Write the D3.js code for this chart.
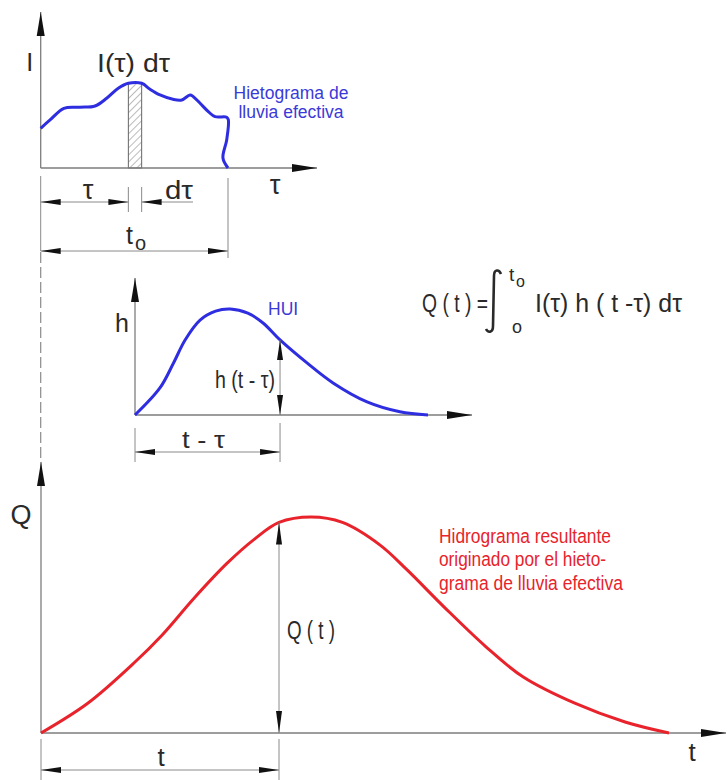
<!DOCTYPE html>
<html>
<head>
<meta charset="utf-8">
<script src="https://cdn.jsdelivr.net/npm/d3@7"></script>
<style>
  body { margin: 0; background: #fff; }
  text { font-family: "Liberation Sans Narrow", "Arial Narrow", "Liberation Sans", Arial, sans-serif; fill: #2a2a2a; }
  .blue { font-family: "Liberation Sans", Arial, sans-serif; fill: #3a3ad8; }
  .red { fill: #e8232b; }
</style>
</head>
<body>
<svg id="chart"></svg>
<script>
// hietograma de lluvia efectiva: tau en % de t0, I en % del maximo
const hietoTau = [0, 5, 12.4, 21, 29, 35.2, 41.4, 46.8, 53.9, 58.4, 63.7, 70.6, 75.3, 79.7, 81.5, 85.1, 89.5, 93.1, 99.3, 100.2, 99.3, 97.3, 100]
const hietoI = [46.9, 56.7, 70.5, 71.7, 73.2, 82.3, 94.1, 100, 100, 92.9, 86.2, 81.1, 80.3, 86.2, 84.2, 76.4, 66.5, 60.6, 59.9, 56.7, 33.1, 11.8, 0]
const stripTau = [46.8, 53.9]   // tau, tau + dtau
const stripI = 100
const t0 = 100

// HUI
const huiT = [0, 8.5, 13.1, 17.1, 22.2, 27.5, 32.5, 38.5, 43.7, 49.5, 58.7, 67.6, 79.2, 90.4, 100]
const huiH = [0, 25.5, 48.8, 70.8, 89.6, 98, 100, 96, 86.8, 70.8, 49.1, 30.2, 12.3, 3, 0]
const tMinusTau = 49.5

// hidrograma resultante
const qT = [0, 7.5, 14.8, 19.3, 24.4, 29.6, 34.1, 37.9, 43, 48, 54, 58.3, 64.2, 70.9, 76.8, 84.9, 93, 100]
const qQ = [0, 13.9, 32.4, 45.4, 62.5, 78.5, 90, 97.5, 100, 97.5, 87, 75.5, 58.3, 39.8, 25.9, 13.9, 5.1, 0]
const tNow = 37.9

const width = 727
const height = 780
const AXIS = "#7d7d7d"
const DIM = "#8a8a8a"
const INK = "#111"

const svg = d3.select("#chart")
    .attr("width", width)
    .attr("height", height)
    .attr("viewBox", [0, 0, width, height])

// hatch pattern for the I(tau) d tau strip
svg.append("defs").append("pattern")
    .attr("id", "hatch")
    .attr("patternUnits", "userSpaceOnUse")
    .attr("width", 5).attr("height", 5)
    .attr("patternTransform", "rotate(45)")
    .append("line")
    .attr("x1", 0).attr("y1", 0).attr("x2", 0).attr("y2", 5)
    .attr("stroke", "#777").attr("stroke-width", 1)

const arrowHead = (tip, dir, len = 20, half = 3) => {
    const [x, y] = tip, [dx, dy] = dir
    const bx = x - dx * len, by = y - dy * len
    svg.append("path")
        .attr("d", `M${x},${y}L${bx - dy * half},${by + dx * half}L${bx + dy * half},${by - dx * half}Z`)
        .attr("fill", INK)
}

const seg = (x1, y1, x2, y2, color = DIM, w = 1) => svg.append("line")
    .attr("x1", x1).attr("y1", y1).attr("x2", x2).attr("y2", y2)
    .attr("stroke", color).attr("stroke-width", w)

const axes = (x0, y0, xEnd, yEnd) => {
    seg(x0, y0, xEnd, y0, AXIS, 1.3)
    seg(x0, y0, x0, yEnd, AXIS, 1.3)
    arrowHead([xEnd, y0], [1, 0], 25, 4)
    arrowHead([x0, yEnd], [0, -1], 24, 4)
}

// horizontal dimension line with outward arrows
const hDim = (xa, xb, y) => {
    seg(xa, y, xb, y)
    arrowHead([xa, y], [-1, 0])
    arrowHead([xb, y], [1, 0])
}

const label = (txt, x, y, size, opts = {}) => {
    const t = svg.append("text")
        .attr("x", x).attr("y", y)
        .attr("dy", "0.35em")
        .attr("font-size", size)
        .attr("text-anchor", opts.anchor || "middle")
        .text(txt)
    if (opts.cls) t.attr("class", opts.cls)
    if (opts.len) t.attr("textLength", opts.len).attr("lengthAdjust", "spacingAndGlyphs")
    return t
}

const smooth = d3.curveCatmullRom.alpha(0.5)

// ---------- hietograma ----------
const xH = d3.scaleLinear().domain([0, t0]).range([40.7, 228])
const yH = d3.scaleLinear().domain([0, 100]).range([168, 83.3])

svg.append("rect")
    .attr("x", xH(stripTau[0]))
    .attr("y", yH(stripI))
    .attr("width", xH(stripTau[1]) - xH(stripTau[0]))
    .attr("height", yH(0) - yH(stripI))
    .attr("fill", "url(#hatch)")
    .attr("stroke", "#666").attr("stroke-width", 1)

axes(xH(0), yH(0), 317, 12)

svg.append("path")
    .datum(d3.zip(hietoTau, hietoI))
    .attr("fill", "none")
    .attr("stroke", "#2e2ee0")
    .attr("stroke-width", 3)
    .attr("d", d3.line().x(d => xH(d[0])).y(d => yH(d[1])).curve(smooth))

// extension lines and dimensions
seg(xH(0), yH(0) + 8, xH(0), 251)
seg(xH(t0), yH(0) + 10, xH(t0), 258)
stripTau.forEach(v => seg(xH(v), yH(0) + 19, xH(v), yH(0) + 44))
seg(xH(0), 202, xH(stripTau[0]), 202)
arrowHead([xH(0), 202], [-1, 0])
arrowHead([xH(stripTau[0]), 202], [1, 0])
seg(xH(stripTau[1]), 202, 193, 202)
arrowHead([xH(stripTau[1]), 202], [-1, 0])
hDim(xH(0), xH(t0), 251)

label("I", xH(0) - 11, 62, 25)
label("I(τ) dτ", 97, 63, 25, { anchor: "start", len: 73 })
label("Hietograma de", 291, 93, 17.5, { cls: "blue" })
label("lluvia efectiva", 291, 112, 17.5, { cls: "blue" })
label("τ", 275, 185, 27)
label("τ", 88, 190, 27)
label("dτ", 165, 190, 25, { anchor: "start", len: 28 })
label("t", 126, 235, 25, { anchor: "start" })
label("o", 135, 243, 20, { anchor: "start" })

// dashed connection down to the hydrograph
svg.append("line")
    .attr("x1", xH(0)).attr("y1", 252).attr("x2", xH(0)).attr("y2", 462)
    .attr("stroke", "#8a8a8a").attr("stroke-width", 1.2)
    .attr("stroke-dasharray", "11,4")

// ---------- HUI ----------
const xU = d3.scaleLinear().domain([0, 100]).range([135, 428])
const yU = d3.scaleLinear().domain([0, 100]).range([415, 309])

axes(xU(0), yU(0), 472, 278)

svg.append("path")
    .datum(d3.zip(huiT, huiH))
    .attr("fill", "none")
    .attr("stroke", "#2e2ee0")
    .attr("stroke-width", 3)
    .attr("d", d3.line().x(d => xU(d[0])).y(d => yU(d[1])).curve(smooth))

const hAt = huiH[huiT.indexOf(tMinusTau)]
seg(xU(tMinusTau), yU(hAt), xU(tMinusTau), yU(0))
arrowHead([xU(tMinusTau), yU(hAt)], [0, -1])
arrowHead([xU(tMinusTau), yU(0)], [0, 1])
seg(xU(0), yU(0) + 13, xU(0), 462)
seg(xU(tMinusTau), yU(0) + 8, xU(tMinusTau), 462)
hDim(xU(0), xU(tMinusTau), 452)

label("h", 122, 323, 25)
label("HUI", 268, 309, 17.5, { anchor: "start", cls: "blue" })
label("h (t - τ)", 215, 380, 23, { anchor: "start", len: 60 })
label("t - τ", 182, 440, 24, { anchor: "start", len: 43 })

// ---------- formula ----------
label("Q ( t ) =", 422, 303, 25, { anchor: "start", len: 66 })
svg.append("path")
    .attr("d", "M501,274 C499,269 494,269 494,276 L493,326 C493,333 488,333 486,329")
    .attr("fill", "none").attr("stroke", "#2a2a2a").attr("stroke-width", 2.6)
label("t", 509, 274, 19, { anchor: "start" })
label("o", 516, 281, 16, { anchor: "start" })
label("o", 512, 327, 18, { anchor: "start" })
label("I(τ) h ( t -τ) dτ", 535, 303, 25, { anchor: "start", len: 147 })

// ---------- hidrograma ----------
const xQ = d3.scaleLinear().domain([0, 100]).range([41, 669])
const yQ = d3.scaleLinear().domain([0, 100]).range([733, 517])

axes(xQ(0), yQ(0), 726, 462)

svg.append("path")
    .datum(d3.zip(qT, qQ))
    .attr("fill", "none")
    .attr("stroke", "#e8232b")
    .attr("stroke-width", 3)
    .attr("d", d3.line().x(d => xQ(d[0])).y(d => yQ(d[1])).curve(smooth))

const qAt = qQ[qT.indexOf(tNow)]
seg(xQ(tNow), yQ(qAt), xQ(tNow), yQ(0))
arrowHead([xQ(tNow), yQ(qAt)], [0, -1], 22)
arrowHead([xQ(tNow), yQ(0)], [0, 1], 22)
seg(xQ(0), yQ(0) + 6, xQ(0), 780)
seg(xQ(tNow), yQ(0) + 6, xQ(tNow), 780)
hDim(xQ(0), xQ(tNow), 770)

label("Q", 21, 515, 27)
label("Q ( t )", 287, 630, 26, { anchor: "start", len: 48 })
label("Hidrograma resultante", 439, 536, 20, { anchor: "start", cls: "red", len: 172 })
label("originado por el hieto-", 439, 559, 20, { anchor: "start", cls: "red", len: 167 })
label("grama de lluvia efectiva", 439, 583, 20, { anchor: "start", cls: "red", len: 184 })
label("t", 692, 752, 26)
label("t", 161, 757, 26)
</script>
</body>
</html>
